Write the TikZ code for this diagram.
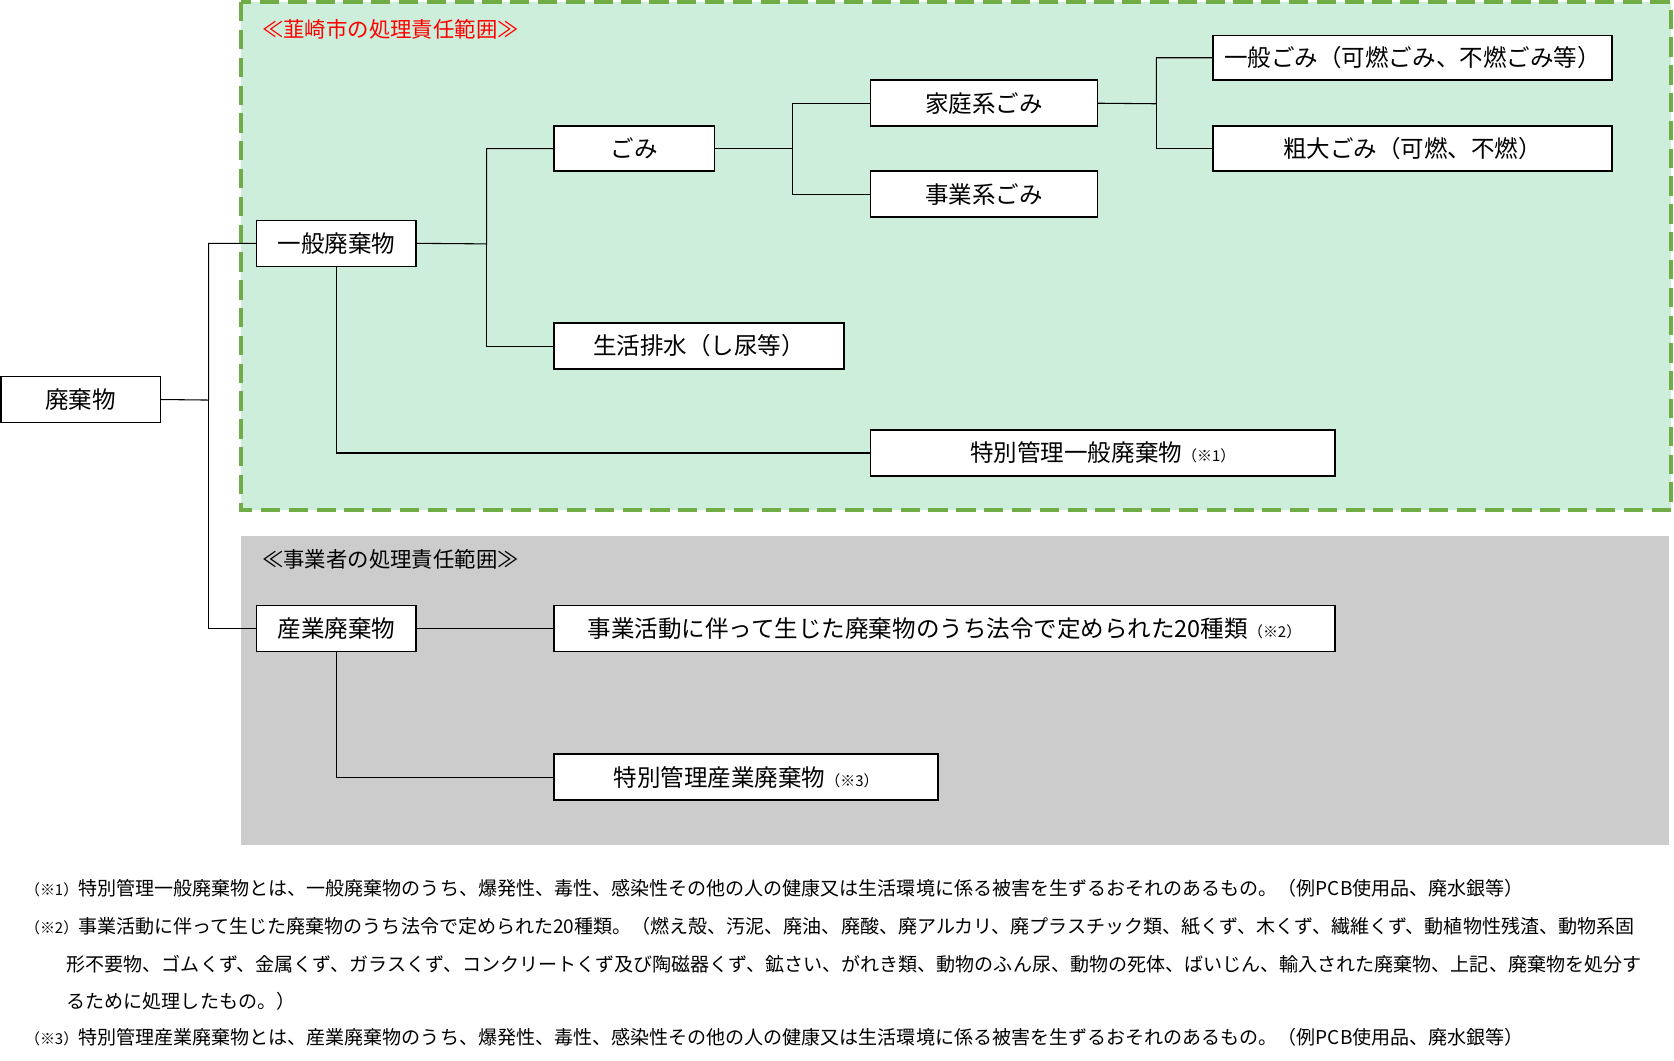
\documentclass[tikz,border=0pt]{standalone}
\usepackage{fontspec}
\setmainfont{Noto Sans CJK JP}
\usepackage{tikz}
\usetikzlibrary{positioning,calc}
\definecolor{areagreen}{HTML}{CCEEDA}
\definecolor{dashgreen}{HTML}{70AD47}
\definecolor{areagray}{HTML}{CCCCCC}
\newcommand{\chu}[1]{{\fontsize{7}{8}\selectfont #1}}
\tikzset{
  wbox/.style={draw=black, fill=white, line width=0.7pt, font=\fontsize{11}{13}\selectfont, inner sep=0pt},
  tline/.style={line width=0.5pt},
  note/.style={anchor=west, font=\fontsize{8.9}{10}\selectfont, inner sep=0pt}
}
\newcommand{\bx}[6]{\node[wbox, minimum width=#4*0.5pt-#2*0.5pt, minimum height=#5*0.5pt-#3*0.5pt] (#1) at ($(#2,#3)!0.5!(#4,#5)$) {#6};}
\begin{document}
\begin{tikzpicture}[x=0.5pt,y=-0.5pt]
\useasboundingbox (0,0) rectangle (1565,991);
% areas
\fill[areagreen] (225,2) rectangle (1562,477);
\draw[dashgreen, line width=1.8pt, dash pattern=on 9pt off 4pt] (225,2) rectangle (1562,477);
\fill[areagray] (225,501) rectangle (1560,790);
\node[anchor=west, red, font=\fontsize{10}{11}\selectfont] (lbl1) at (238,27) {≪韮崎市の処理責任範囲≫};
\node[anchor=west, font=\fontsize{10}{11}\selectfont] (lbl2) at (238,523) {≪事業者の処理責任範囲≫};
% boxes
\bx{hai}{1}{352}{150}{395}{廃棄物}
\bx{ippan}{240}{206}{389}{249}{一般廃棄物}
\bx{sangyo}{240}{566}{389}{609}{産業廃棄物}
\bx{gomi}{518}{118}{668}{160}{ごみ}
\bx{haisui}{518}{302}{789}{345}{生活排水（し尿等）}
\bx{tokuippan}{814}{402}{1248}{445}{特別管理一般廃棄物\chu{（※1）}}
\bx{katei}{814}{75}{1026}{118}{家庭系ごみ}
\bx{jigyo}{814}{160}{1026}{203}{事業系ごみ}
\bx{ippangomi}{1134}{33}{1507}{75}{一般ごみ（可燃ごみ、不燃ごみ等）}
\bx{sodai}{1134}{118}{1507}{160}{粗大ごみ（可燃、不燃）}
\bx{katsudo}{518}{566}{1248}{609}{事業活動に伴って生じた廃棄物のうち法令で定められた20種類\chu{（※2）}}
\bx{tokusangyo}{518}{705}{877}{748}{特別管理産業廃棄物\chu{（※3）}}
% connectors
\coordinate (j1) at (195,374);
\draw[tline] (hai.east) -- (j1) |- (ippan.west);
\draw[tline] (j1) |- (sangyo.west);
\coordinate (j2) at (455,228);
\draw[tline] (ippan.east) -- (j2) |- (gomi.west);
\draw[tline] (j2) |- (haisui.west);
\draw[tline] (ippan.south) |- (tokuippan.west);
\coordinate (j3) at (741,139);
\draw[tline] (gomi.east) -- (j3) |- (katei.west);
\draw[tline] (j3) |- (jigyo.west);
\coordinate (j4) at (1081,97);
\draw[tline] (katei.east) -- (j4) |- (ippangomi.west);
\draw[tline] (j4) |- (sodai.west);
\draw[tline] (sangyo.east) -- (katsudo.west);
\draw[tline] (sangyo.south) |- (tokusangyo.west);
% notes
\node[note] (n1) at (23,830) {\chu{（※1）}特別管理一般廃棄物とは、一般廃棄物のうち、爆発性、毒性、感染性その他の人の健康又は生活環境に係る被害を生ずるおそれのあるもの。（例PCB使用品、廃水銀等）};
\node[note] (n2) at (23,866) {\chu{（※2）}事業活動に伴って生じた廃棄物のうち法令で定められた20種類。（燃え殻、汚泥、廃油、廃酸、廃アルカリ、廃プラスチック類、紙くず、木くず、繊維くず、動植物性残渣、動物系固};
\node[note] (n2b) at (62,901) {形不要物、ゴムくず、金属くず、ガラスくず、コンクリートくず及び陶磁器くず、鉱さい、がれき類、動物のふん尿、動物の死体、ばいじん、輸入された廃棄物、上記、廃棄物を処分す};
\node[note] (n2c) at (62,936) {るために処理したもの。）};
\node[note] (n3) at (23,970) {\chu{（※3）}特別管理産業廃棄物とは、産業廃棄物のうち、爆発性、毒性、感染性その他の人の健康又は生活環境に係る被害を生ずるおそれのあるもの。（例PCB使用品、廃水銀等）};
\end{tikzpicture}
\end{document}
